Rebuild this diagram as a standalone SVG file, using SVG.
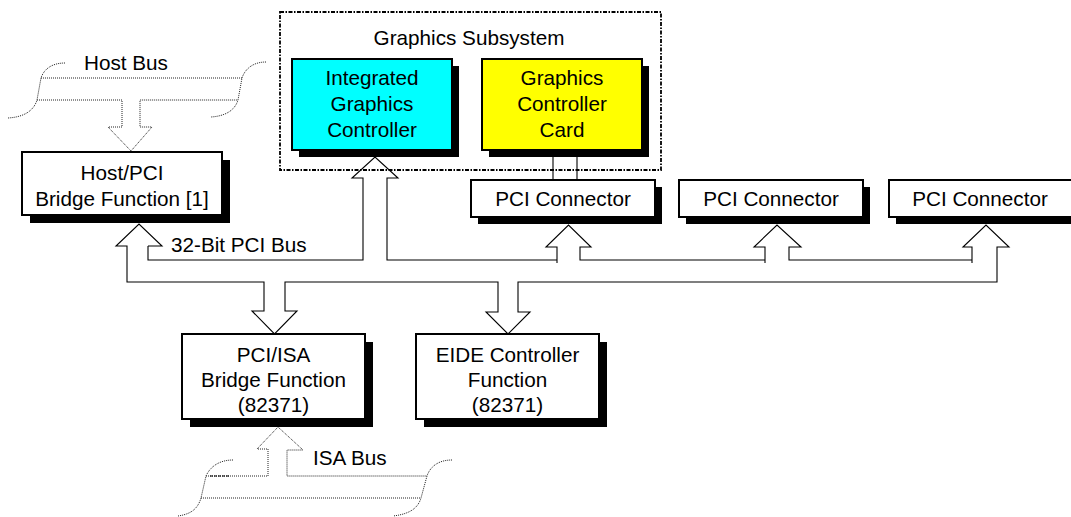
<svg xmlns="http://www.w3.org/2000/svg" width="1071" height="517" viewBox="0 0 1071 517">
  <style>
    .lbl { font-family: "Liberation Sans", Arial, sans-serif; font-size: 20.7px; fill: #000; text-anchor: middle; }
    .free { text-anchor: start; }
    .box { stroke: #000; stroke-width: 2; }
    .plain { fill: #fff; }
    .shadow { fill: #000; }
    .bus { fill: none; stroke: #000; stroke-width: 1.1; stroke-linejoin: miter; }
    .dotted { fill: none; stroke: #222; stroke-width: 1; stroke-dasharray: 1 1; }
    .frame { fill: none; stroke: #000; stroke-width: 1.8; stroke-dasharray: 4 1.5 1.5 1.5; }
  </style>
  <rect width="1071" height="517" fill="#fff"/>

  <!-- Host bus (dotted) -->
  <g id="host-bus">
    <path class="dotted" d="M65,63 C52,63 44,69 41,78 L37,100 C34,110 25,117 8,118"/>
    <path class="dotted" d="M266,62 C253,62 245,69 242,78 L238,100 C235,110 226,116 211,117"/>
    <path class="dotted" d="M41,78 L242,78"/>
    <path class="dotted" d="M37,100 L122,100 L122,127 L108,127 L131,151 L152,127 L140,127 L140,100 L238,100"/>
    <text class="lbl" x="126" y="70">Host Bus</text>
  </g>

  <!-- Graphics subsystem frame -->
  <g id="graphics-subsystem">
    <rect class="frame" x="280" y="12" width="381" height="158"/>
    <text class="lbl" x="469" y="45">Graphics Subsystem</text>
  </g>

  <g id="integrated-graphics">
    <rect class="shadow" x="299" y="66" width="160" height="91"/>
    <rect class="box" x="292" y="59" width="160" height="91" fill="#00ffff"/>
    <text class="lbl" x="372" y="85">Integrated</text>
    <text class="lbl" x="372" y="111">Graphics</text>
    <text class="lbl" x="372" y="137">Controller</text>
  </g>

  <g id="graphics-card">
    <rect class="shadow" x="489" y="66" width="160" height="91"/>
    <rect class="box" x="482" y="59" width="160" height="91" fill="#ffff00"/>
    <text class="lbl" x="562" y="85">Graphics</text>
    <text class="lbl" x="562" y="111">Controller</text>
    <text class="lbl" x="562" y="137">Card</text>
  </g>

  <g id="host-pci-bridge">
    <rect class="shadow" x="30" y="160" width="200" height="63"/>
    <rect class="box plain" x="22" y="152" width="200" height="63"/>
    <text class="lbl" x="122" y="180">Host/PCI</text>
    <text class="lbl" x="122" y="206">Bridge Function [1]</text>
  </g>

  <g id="pci-connector-1">
    <rect class="shadow" x="478" y="187" width="184" height="37"/>
    <rect class="box plain" x="471" y="180" width="184" height="37"/>
    <text class="lbl" x="563" y="206">PCI Connector</text>
  </g>

  <g id="pci-connector-2">
    <rect class="shadow" x="686" y="187" width="184" height="37"/>
    <rect class="box plain" x="679" y="180" width="184" height="37"/>
    <text class="lbl" x="771" y="206">PCI Connector</text>
  </g>

  <g id="pci-connector-3">
    <rect class="shadow" x="896" y="187" width="184" height="37"/>
    <rect class="box plain" x="889" y="180" width="184" height="37"/>
    <text class="lbl" x="980" y="206">PCI Connector</text>
  </g>

  <g id="pci-isa-bridge">
    <rect class="shadow" x="190" y="342" width="183" height="85"/>
    <rect class="box plain" x="182" y="334" width="183" height="85"/>
    <text class="lbl" x="273.5" y="362">PCI/ISA</text>
    <text class="lbl" x="273.5" y="387">Bridge Function</text>
    <text class="lbl" x="273.5" y="412">(82371)</text>
  </g>

  <g id="eide-controller">
    <rect class="shadow" x="424" y="342" width="183" height="85"/>
    <rect class="box plain" x="416" y="334" width="183" height="85"/>
    <text class="lbl" x="507.5" y="362">EIDE Controller</text>
    <text class="lbl" x="507.5" y="387">Function</text>
    <text class="lbl" x="507.5" y="412">(82371)</text>
  </g>

  <!-- ISA bus (dotted) -->
  <g id="isa-bus">
    <path class="dotted" d="M233,460 C219,460 210,467 206,476 L201,498 C198,508 192,514 178,516"/>
    <path class="dotted" d="M452,460 C438,460 430,467 427,476 L421,498 C418,508 410,514 393,516"/>
    <path class="dotted" d="M206,476 L268,476 L268,449 L257,449 L278,427 L303,450 L287,450 L287,476 L427,476"/>
    <path d="M210,476 L230,476" fill="none" stroke="#000" stroke-width="1.2" stroke-dasharray="3 1"/>
    <path class="dotted" d="M201,498 L421,498"/>
    <text class="lbl free" x="313" y="465">ISA Bus</text>
  </g>

  <!-- 32-bit PCI bus and its branch arrows -->
  <g id="connectors">
    <path class="bus" d="M553,157 L553,180 M577,157 L577,180"/>
    <path class="bus" d="M148,246 L148,260 L363,260 L363,178 L352,178 L375,157 L398,178 L387,178 L387,260 L557,260
      M557,263 L557,247 L546,247 L568.5,225 L591,247 L580,247 L580,260 L765,260
      M765,263 L765,247 L754,247 L777,225 L801,247 L789,247 L789,260 L972,260
      M972,263 L972,247 L963,247 L986,225 L1009,247 L997,247 L997,282 L518,282 L518,312 L530,312 L508,334 L486,312 L498,312 L498,282
      L285,282 L285,311 L297,311 L274.5,334 L252,311 L264,311 L264,282 L127,282 L127,246 L116,246 L139,224 L162,246 L148,246"/>
    <text class="lbl free" x="171" y="252">32-Bit PCI Bus</text>
  </g>
</svg>
